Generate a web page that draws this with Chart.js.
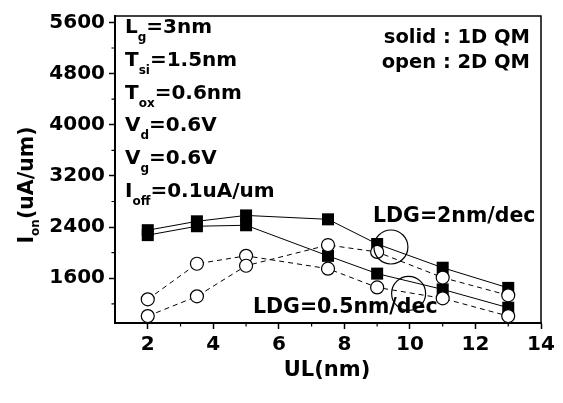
<!DOCTYPE html>
<html>
<head>
<meta charset="utf-8">
<script src="https://cdn.jsdelivr.net/npm/chart.js@4.4.1/dist/chart.umd.min.js"></script>
<style>
  html, body { margin: 0; padding: 0; background: #fff; }
  #wrap { width: 563px; height: 403px; position: relative; }
</style>
</head>
<body>
<div id="wrap"><canvas id="c" width="563" height="403"></canvas></div>
<script>
// ---- data ----
const ulValues = [2, 3.5, 5, 7.5, 9, 11, 13];            // UL (nm)
const solidLDG2  = [2351, 2490, 2582, 2521, 2135, 1764, 1449]; // 1D QM, LDG=2nm/dec
const solidLDG05 = [2274, 2413, 2428, 1950, 1672, 1425, 1139]; // 1D QM, LDG=0.5nm/dec
const openLDG2   = [1008, 1317, 1795, 2119, 2011, 1610, 1333]; // 2D QM, LDG=2nm/dec
const openLDG05  = [1270, 1826, 1950, 1749, 1456, 1286, 1008]; // 2D QM, LDG=0.5nm/dec
const xTicks = [2, 4, 6, 8, 10, 12, 14];
const xMinorTicks = [3, 5, 7, 9, 11, 13];
const yTicks = [1600, 2400, 3200, 4000, 4800, 5600];
const yMinorTicks = [1200, 2000, 2800, 3600, 4400, 5200];
// circled groups (data coordinates of circle centres)
const circleUL = [9.42, 9.96];
const circleIon = [2088, 1363];

const FONT = '"DejaVu Sans", sans-serif';
const pts = (ys) => ulValues.map((x, i) => ({ x: x, y: ys[i] }));

function rich(ctx, segs, x, y, align, mainSize, subSize, subOff) {
  const main = 'bold ' + mainSize + 'px ' + FONT;
  const sub = 'bold ' + subSize + 'px ' + FONT;
  let w = 0;
  segs.forEach(s => { ctx.font = s[1] ? sub : main; w += ctx.measureText(s[0]).width; });
  let cx = align === 'right' ? x - w : (align === 'center' ? x - w / 2 : x);
  ctx.textAlign = 'left';
  ctx.textBaseline = 'alphabetic';
  segs.forEach(s => {
    ctx.font = s[1] ? sub : main;
    ctx.fillText(s[0], cx, y + (s[1] ? subOff : 0));
    cx += ctx.measureText(s[0]).width;
  });
}

const decor = {
  id: 'decor',
  afterDraw(chart) {
    const ctx = chart.ctx, a = chart.chartArea;
    const xs = chart.scales.x, ys = chart.scales.y;
    ctx.save();
    ctx.strokeStyle = '#000';
    ctx.fillStyle = '#000';
    // frame top & right
    ctx.lineWidth = 1.5;
    ctx.beginPath();
    ctx.moveTo(a.left, a.top); ctx.lineTo(a.right, a.top); ctx.lineTo(a.right, a.bottom);
    ctx.stroke();
    // minor ticks
    ctx.lineWidth = 1.2;
    ctx.beginPath();
    xMinorTicks.forEach(v => { const px = xs.getPixelForValue(v); ctx.moveTo(px, a.bottom); ctx.lineTo(px, a.bottom + 3.5); });
    yMinorTicks.forEach(v => { const py = ys.getPixelForValue(v); ctx.moveTo(a.left, py); ctx.lineTo(a.left - 3.5, py); });
    ctx.stroke();
    // circles around groups
    ctx.lineWidth = 1.2;
    for (let i = 0; i < circleUL.length; i++) {
      ctx.beginPath();
      ctx.arc(xs.getPixelForValue(circleUL[i]), ys.getPixelForValue(circleIon[i]), 17, 0, Math.PI * 2);
      ctx.stroke();
    }
    // parameter block
    const block = [
      [['L', 0], ['g', 1], ['=3nm', 0]],
      [['T', 0], ['si', 1], ['=1.5nm', 0]],
      [['T', 0], ['ox', 1], ['=0.6nm', 0]],
      [['V', 0], ['d', 1], ['=0.6V', 0]],
      [['V', 0], ['g', 1], ['=0.6V', 0]],
      [['I', 0], ['off', 1], ['=0.1uA/um', 0]]
    ];
    block.forEach((segs, i) => rich(ctx, segs, 125, 33 + i * 32.8, 'left', 20, 12, 8));
    // legend text
    rich(ctx, [['solid : 1D QM', 0]], 530, 43, 'right', 19.5, 12, 0);
    rich(ctx, [['open : 2D QM', 0]], 530, 68, 'right', 19.5, 12, 0);
    // LDG labels
    rich(ctx, [['LDG=2nm/dec', 0]], 373, 222, 'left', 20.5, 12, 0);
    rich(ctx, [['LDG=0.5nm/dec', 0]], 253, 313, 'left', 20.5, 12, 0);
    // axis titles
    rich(ctx, [['UL(nm)', 0]], 327, 376, 'center', 21, 12, 0);
    ctx.translate(33, 185);
    ctx.rotate(-Math.PI / 2);
    rich(ctx, [['I', 0], ['on', 1], ['(uA/um)', 0]], 0, 0, 'center', 20.5, 12, 6);
    ctx.restore();
  }
};

const common = { showLine: true, tension: 0, borderColor: '#000', borderWidth: 1, pointBorderColor: '#000' };

new Chart(document.getElementById('c'), {
  type: 'line',
  data: {
    datasets: [
      Object.assign({ label: 'open LDG=2', data: pts(openLDG2), borderDash: [5, 4], pointStyle: 'circle',
        pointRadius: 6.5, pointBackgroundColor: '#fff', pointBorderWidth: 1.2 }, common),
      Object.assign({ label: 'open LDG=0.5', data: pts(openLDG05), borderDash: [5, 4], pointStyle: 'circle',
        pointRadius: 6.5, pointBackgroundColor: '#fff', pointBorderWidth: 1.2 }, common),
      Object.assign({ label: 'solid LDG=2', data: pts(solidLDG2), pointStyle: 'rect',
        pointRadius: 8.5, pointBackgroundColor: '#000', pointBorderWidth: 0 }, common),
      Object.assign({ label: 'solid LDG=0.5', data: pts(solidLDG05), pointStyle: 'rect',
        pointRadius: 8.5, pointBackgroundColor: '#000', pointBorderWidth: 0 }, common)
    ]
  },
  options: {
    responsive: false,
    animation: false,
    events: [],
    layout: { padding: { top: 12, right: 22, left: 0, bottom: 0 } },
    plugins: { legend: { display: false }, tooltip: { enabled: false } },
    scales: {
      x: {
        type: 'linear', min: 1, max: 14,
        afterBuildTicks: s => { s.ticks = xTicks.map(v => ({ value: v })); },
        afterFit: s => { s.height = 80; },
        grid: { drawOnChartArea: false, drawTicks: true, tickLength: 6, tickColor: '#000', tickWidth: 1.5 },
        border: { color: '#000', width: 2 },
        ticks: { color: '#000', font: { family: FONT, size: 20, weight: 'bold' }, padding: 4,
          maxRotation: 0, autoSkip: false, callback: v => String(v) }
      },
      y: {
        type: 'linear', min: 900, max: 5700,
        afterBuildTicks: s => { s.ticks = yTicks.map(v => ({ value: v })); },
        afterFit: s => { s.width = 115; },
        grid: { drawOnChartArea: false, drawTicks: true, tickLength: 6, tickColor: '#000', tickWidth: 1.5 },
        border: { color: '#000', width: 2 },
        ticks: { color: '#000', font: { family: FONT, size: 20, weight: 'bold' }, padding: 4,
          autoSkip: false, callback: v => String(v) }
      }
    }
  },
  plugins: [decor]
});
</script>
</body>
</html>
